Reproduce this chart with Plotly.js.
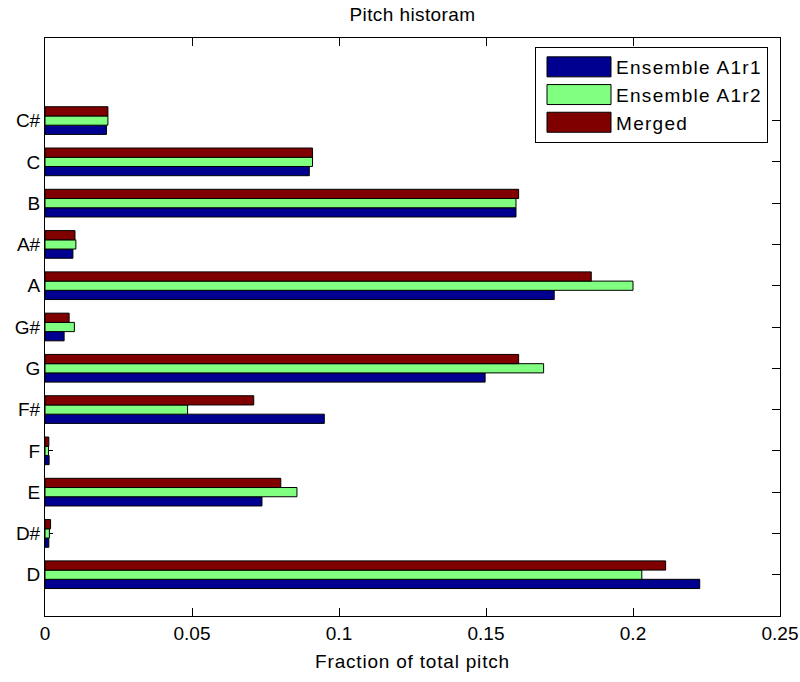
<!DOCTYPE html>
<html><head><meta charset="utf-8">
<script src="https://cdn.plot.ly/plotly-3.0.1.min.js"></script>
<style>
html,body{margin:0;padding:0;background:#fff}
.legendtext{letter-spacing:1.3px}
.xtitle{letter-spacing:0.8px}
.gtitle{letter-spacing:0.4px}
</style>
</head><body><div id="chart" style="width:800px;height:682px"></div>
<script>
const notes = ['D','D#','E','F','F#','G','G#','A','A#','B','C','C#'];
const ensembleA1r1 = [0.2227,0.0013,0.0738,0.0014,0.0950,0.1497,0.0065,0.1732,0.0095,0.1602,0.0899,0.0209];
const ensembleA1r2 = [0.2030,0.0015,0.0857,0.0012,0.0485,0.1696,0.0100,0.2000,0.0105,0.1602,0.0910,0.0214];
const merged       = [0.2111,0.0019,0.0802,0.0013,0.0710,0.1611,0.0082,0.1858,0.0102,0.1611,0.0910,0.0214];
const seriesNames = ['Ensemble A1r1','Ensemble A1r2','Merged'];
const xTicks = [0,0.05,0.1,0.15,0.2,0.25];
const xTickLabels = ['0','0.05','0.1','0.15','0.2','0.25'];

const colors = ['#000090','#80ff80','#800000'];
const FONT = 'Liberation Sans, Arial, sans-serif';
const FS = 19;

const seriesVals = [ensembleA1r1, ensembleA1r2, merged];
const traces = seriesVals.map((vals, i) => ({
  type: 'bar', orientation: 'h',
  y: notes, x: vals, name: seriesNames[i],
  legendgroup: 'g' + i,
  marker: {color: colors[i], line: {color: '#000', width: 1}},
  hoverinfo: 'x+y+name'
}));

const layout = {
  width: 800, height: 682,
  paper_bgcolor: '#fff', plot_bgcolor: '#fff',
  margin: {l: 45, r: 20, t: 38, b: 66, pad: 0},
  font: {family: FONT, size: FS, color: '#000'},
  barmode: 'group', bargap: 0.33, bargroupgap: 0,
  title: {text: 'Pitch historam', font: {family: FONT, size: FS, color: '#000'},
          xref: 'paper', x: 0.5, xanchor: 'center', yref: 'container', y: 1 - 14/682, yanchor: 'middle'},
  xaxis: {
    range: [0, 0.25], tickvals: xTicks, ticktext: xTickLabels,
    showgrid: false, zeroline: false, showline: true, linecolor: '#000', linewidth: 1,
    mirror: 'ticks', ticks: 'inside', ticklen: 8, tickcolor: '#000', tickwidth: 1,
    automargin: false, layer: 'below traces',
    title: {text: 'Fraction of total pitch', font: {family: FONT, size: FS, color: '#000'}, standoff: 11}
  },
  yaxis: {
    type: 'category', categoryorder: 'array', categoryarray: notes,
    range: [-1, 13],
    showgrid: false, zeroline: false, showline: true, linecolor: '#000', linewidth: 1,
    mirror: 'ticks', ticks: 'inside', ticklen: 8, tickcolor: '#000', tickwidth: 1,
    automargin: false, layer: 'below traces'
  },
  showlegend: true,
  legend: {
    x: (535 - 45) / 735, y: (616 - 47) / 578, xanchor: 'left', yanchor: 'top',
    xref: 'paper', yref: 'paper',
    bgcolor: '#fff', bordercolor: '#000', borderwidth: 1,
    font: {family: FONT, size: FS, color: '#000'},
    traceorder: 'grouped', tracegroupgap: 0, itemwidth: 70
  }
};

Plotly.newPlot('chart', traces, layout, {displayModeBar: false, staticPlot: true}).then(gd => {
  const items = gd.querySelectorAll('.legend g.traces');
  items.forEach(it => {
    const path = it.querySelector('path.legendbar') || it.querySelector('.legendpoints path');
    const text = it.querySelector('text.legendtext');
    if (!path || !text) return;
    const pr = path.getBoundingClientRect();
    const tr = text.getBoundingClientRect();
    const cx = pr.left + pr.width / 2, cy = pr.top + pr.height / 2;
    const right = tr.left - 5 - cx;
    const left = right - 64;
    path.setAttribute('d', `M${right},10H${left}V-10H${right}Z`);
  });
});
</script>
</body></html>
